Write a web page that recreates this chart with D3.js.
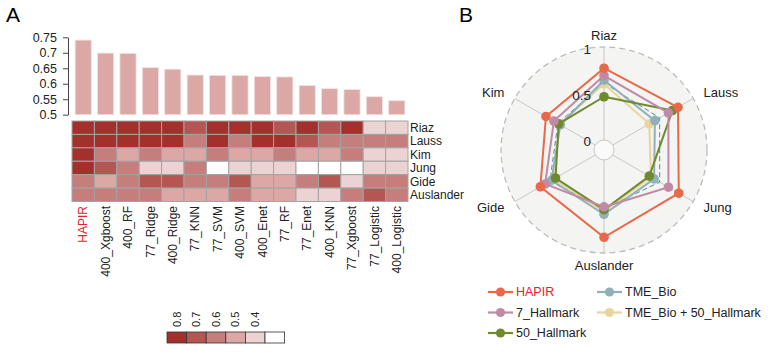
<!DOCTYPE html>
<html>
<head>
<meta charset="utf-8">
<script src="https://cdn.jsdelivr.net/npm/d3@7"></script>
<style>
  body { margin: 0; background: #fff; }
  svg { font-family: "Liberation Sans", Arial, sans-serif; }
</style>
</head>
<body>
<div id="chart"></div>
<script>
// ---- data ----
const models = ["HAPIR", "400_Xgboost", "400_RF", "77_Ridge", "400_Ridge", "77_KNN", "77_SVM",
  "400_SVM", "400_Enet", "77_RF", "77_Enet", "400_KNN", "77_Xgboost", "77_Logistic", "400_Logistic"];
const meanAUC = [0.741, 0.699, 0.698, 0.652, 0.647, 0.628, 0.627, 0.627, 0.623, 0.622, 0.594, 0.584, 0.581, 0.558, 0.545];
const barTicks = [0.5, 0.55, 0.6, 0.65, 0.7, 0.75];

const cohorts = ["Riaz", "Lauss", "Kim", "Jung", "Gide", "Auslander"];
const riaz      = [0.84, 0.82, 0.83, 0.81, 0.80, 0.72, 0.82, 0.81, 0.80, 0.73, 0.81, 0.71, 0.80, 0.42, 0.43];
const lauss     = [0.83, 0.85, 0.81, 0.80, 0.82, 0.63, 0.80, 0.62, 0.82, 0.81, 0.71, 0.62, 0.61, 0.63, 0.62];
const kim       = [0.82, 0.62, 0.52, 0.61, 0.53, 0.51, 0.62, 0.52, 0.51, 0.61, 0.52, 0.53, 0.62, 0.42, 0.41];
const jung      = [0.81, 0.72, 0.61, 0.42, 0.43, 0.62, 0.30, 0.42, 0.41, 0.42, 0.31, 0.32, 0.30, 0.43, 0.42];
const gide      = [0.63, 0.52, 0.62, 0.71, 0.72, 0.61, 0.62, 0.72, 0.51, 0.52, 0.63, 0.71, 0.42, 0.62, 0.61];
const auslander = [0.62, 0.61, 0.63, 0.62, 0.52, 0.51, 0.53, 0.61, 0.52, 0.51, 0.42, 0.41, 0.62, 0.72, 0.63];
const heatRows = [riaz, lauss, kim, jung, gide, auslander];
const legendTicks = [0.8, 0.7, 0.6, 0.5, 0.4];

const radarAxes = ["Riaz", "Lauss", "Jung", "Auslander", "Gide", "Kim"];
const radarNames = ["HAPIR", "7_Hallmark", "50_Hallmark", "TME_Bio", "TME_Bio + 50_Hallmark"];
const hapirR     = [0.78, 0.82, 0.83, 0.84, 0.69, 0.62];
const hallmark7  = [0.70, 0.70, 0.70, 0.51, 0.63, 0.52];
const hallmark50 = [0.47, 0.75, 0.46, 0.54, 0.50, 0.46];
const tmeBio     = [0.65, 0.53, 0.52, 0.59, 0.55, 0.44];
const tmeBio50   = [0.61, 0.46, 0.48, 0.56, 0.52, 0.45];
const refDashed  = [0.62, 0.59, 0.59, 0.53, 0.57, 0.47];
const radarTicks = [0, 0.5, 1];

const W = 773, H = 361;
const svg = d3.select("#chart").append("svg").attr("width", W).attr("height", H);

// ---- panel letters ----
svg.append("text").attr("x", 6).attr("y", 22).attr("font-size", 21).text("A");
svg.append("text").attr("x", 459).attr("y", 22).attr("font-size", 21).text("B");

// ---- bar chart ----
const xBand = d3.scaleBand().domain(models).range([72, 408]);
const xBar = d3.scaleBand().domain(models).range([72, 408]).paddingInner(0.28).paddingOuter(0.14);
const yBar = d3.scaleLinear().domain([0.5, 0.75]).range([114.7, 37.3]);

svg.append("g").selectAll("rect").data(models).enter().append("rect")
  .attr("x", d => xBar(d))
  .attr("width", xBar.bandwidth())
  .attr("y", (d, i) => yBar(meanAUC[i]))
  .attr("height", (d, i) => yBar(0.5) - yBar(meanAUC[i]))
  .attr("fill", "#dba8a6")
  .attr("stroke", "#f2e2e1")
  .attr("stroke-width", 0.8);

const yAxis = svg.append("g").attr("transform", "translate(68,0)")
  .call(d3.axisLeft(yBar).tickValues(barTicks).tickFormat(d3.format("")).tickSize(5).tickSizeOuter(0).tickPadding(6));
yAxis.selectAll("text").attr("font-size", 12.5).attr("fill", "#222").attr("font-family", "Liberation Sans, Arial, sans-serif");
yAxis.selectAll("line,path").attr("stroke", "#444");

// ---- heatmap ----
const heatColors = ["#ffffff", "#ecd3d3", "#dba8a6", "#c57e7c", "#b45652", "#a4302c"];
const color = d3.scaleThreshold().domain([0.36, 0.46, 0.56, 0.66, 0.76]).range(heatColors);
const yHeat = d3.scaleBand().domain(cohorts).range([121, 201.5]);

const cells = [];
heatRows.forEach((row, r) => row.forEach((v, c) => cells.push({ m: models[c], k: cohorts[r], v: v })));

svg.append("g").selectAll("rect").data(cells).enter().append("rect")
  .attr("x", d => xBand(d.m))
  .attr("y", d => yHeat(d.k))
  .attr("width", xBand.bandwidth())
  .attr("height", yHeat.bandwidth())
  .attr("fill", d => color(d.v))
  .attr("stroke", "#a3a3a3")
  .attr("stroke-width", 1);

svg.append("g").selectAll("text").data(cohorts).enter().append("text")
  .attr("x", 410)
  .attr("y", d => yHeat(d) + yHeat.bandwidth() / 2)
  .attr("dy", "0.35em")
  .attr("font-size", 12)
  .attr("fill", "#222")
  .text(d => d);

svg.append("g").selectAll("text").data(models).enter().append("text")
  .attr("transform", d => "translate(" + (xBand(d) + xBand.bandwidth() / 2) + ",206) rotate(-90)")
  .attr("dy", "0.35em")
  .attr("text-anchor", "end")
  .attr("font-size", 12)
  .attr("fill", d => d === "HAPIR" ? "#e8212a" : "#222")
  .text(d => d);

// colour key
const keyVals = legendTicks.concat([0.3]);
const key = svg.append("g");
key.selectAll("rect").data(keyVals).enter().append("rect")
  .attr("x", (d, i) => 167 + i * 19.6)
  .attr("y", 332)
  .attr("width", 19.6)
  .attr("height", 11)
  .attr("fill", d => color(d))
  .attr("stroke", "#333")
  .attr("stroke-width", 0.8);
key.selectAll("text").data(legendTicks).enter().append("text")
  .attr("transform", (d, i) => "translate(" + (167 + i * 19.6 + 9.8) + ",327) rotate(-90)")
  .attr("dy", "0.35em")
  .attr("font-size", 11)
  .attr("fill", "#222")
  .text(d => d);

// ---- radar chart ----
const cx = 604, cy = 150;
const rScale = d3.scaleLinear().domain([0, 1]).range([10, 102]);
const ang = i => i * Math.PI / 3;
const radar = svg.append("g").attr("transform", "translate(" + cx + "," + cy + ")");

radar.append("circle").attr("r", 103).attr("fill", "#f4f4f2")
  .attr("stroke", "#bdbdbd").attr("stroke-width", 1.3).attr("stroke-dasharray", "6,4");
radar.append("circle").attr("r", 10).attr("fill", "#fafafa").attr("stroke", "#c8c8c8");
radar.selectAll("line.spoke").data(radarAxes).enter().append("line")
  .attr("class", "spoke")
  .attr("x1", (d, i) => 10 * Math.sin(ang(i)))
  .attr("y1", (d, i) => -10 * Math.cos(ang(i)))
  .attr("x2", (d, i) => 103 * Math.sin(ang(i)))
  .attr("y2", (d, i) => -103 * Math.cos(ang(i)))
  .attr("stroke", "#c8c8c8").attr("stroke-width", 1);

radar.selectAll("text.axis").data(radarAxes).enter().append("text")
  .attr("class", "axis")
  .attr("x", (d, i) => 115 * Math.sin(ang(i)))
  .attr("y", (d, i) => -115 * Math.cos(ang(i)))
  .attr("dy", "0.35em")
  .attr("text-anchor", (d, i) => { const s = Math.sin(ang(i)); return s > 0.1 ? "start" : s < -0.1 ? "end" : "middle"; })
  .attr("font-size", 13)
  .attr("fill", "#222")
  .text(d => d);

const line = d3.lineRadial().angle((d, i) => ang(i)).radius(d => rScale(d)).curve(d3.curveLinearClosed);

radar.append("path").attr("d", line(refDashed)).attr("fill", "none")
  .attr("stroke", "#4e8d98").attr("stroke-width", 1).attr("stroke-dasharray", "5,3");

const series = [
  { name: "TME_Bio + 50_Hallmark", vals: tmeBio50, col: "#ebd49b" },
  { name: "TME_Bio", vals: tmeBio, col: "#8fb1b9" },
  { name: "50_Hallmark", vals: hallmark50, col: "#6e8a2c" },
  { name: "7_Hallmark", vals: hallmark7, col: "#c08aa6" },
  { name: "HAPIR", vals: hapirR, col: "#e8694a" }
];
series.forEach(s => {
  const g = radar.append("g");
  g.append("path").attr("d", line(s.vals)).attr("fill", "none").attr("stroke", s.col).attr("stroke-width", 2);
  g.selectAll("circle").data(s.vals).enter().append("circle")
    .attr("cx", (d, i) => rScale(d) * Math.sin(ang(i)))
    .attr("cy", (d, i) => -rScale(d) * Math.cos(ang(i)))
    .attr("r", 4.8)
    .attr("fill", s.col);
});

radar.selectAll("text.tick").data(radarTicks).enter().append("text")
  .attr("class", "tick")
  .attr("x", -13)
  .attr("y", d => -rScale(d) + 1)
  .attr("dy", "0.35em")
  .attr("text-anchor", "end")
  .attr("font-size", 13.5)
  .attr("fill", "#222")
  .text(d => d);

// ---- radar legend ----
const colOf = {};
series.forEach(s => { colOf[s.name] = s.col; });
const legendPos = [[488, 292], [488, 312.5], [488, 333], [597, 292], [597, 312.5]];
const leg = svg.append("g");
radarNames.forEach((n, i) => {
  const [lx, ly] = legendPos[i];
  const g = leg.append("g").attr("transform", "translate(" + lx + "," + ly + ")");
  g.append("line").attr("x1", 0).attr("x2", 25).attr("stroke", colOf[n]).attr("stroke-width", 2.2);
  g.append("circle").attr("cx", 12.5).attr("r", 4.6).attr("fill", colOf[n]);
  g.append("text").attr("x", 28).attr("dy", "0.35em").attr("font-size", 12.5)
    .attr("fill", n === "HAPIR" ? "#e8212a" : "#222").text(n);
});
</script>
</body>
</html>
